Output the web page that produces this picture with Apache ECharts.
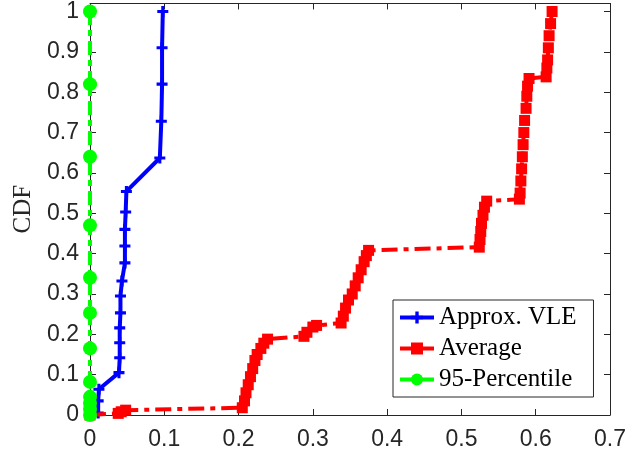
<!DOCTYPE html>
<html>
<head>
<meta charset="utf-8">
<script src="https://cdn.jsdelivr.net/npm/echarts@6/dist/echarts.min.js"></script>
<style>
  html, body { margin: 0; padding: 0; background: #fff; }
  #chart { width: 629px; height: 456px; }
</style>
</head>
<body>
<div id="chart"></div>
<script>
// CDF curves of the three estimators
const vleX = [0.011, 0.011, 0.012, 0.039, 0.040, 0.040, 0.040, 0.041, 0.041, 0.043, 0.047, 0.047, 0.047, 0.048, 0.049, 0.094, 0.096, 0.097, 0.097, 0.098];
const vleY = [0.005, 0.035, 0.064, 0.105, 0.142, 0.179, 0.216, 0.253, 0.295, 0.332, 0.377, 0.419, 0.460, 0.503, 0.554, 0.637, 0.728, 0.820, 0.910, 1.000];

const avgX = [0.000, 0.038, 0.042, 0.048,
  0.205, 0.208, 0.210, 0.213, 0.216, 0.219, 0.222, 0.225, 0.230, 0.234, 0.239,
  0.288, 0.292, 0.300, 0.305,
  0.338, 0.341, 0.344, 0.348, 0.353, 0.357, 0.361, 0.365, 0.369, 0.372, 0.375,
  0.524, 0.525, 0.526, 0.527, 0.529, 0.531, 0.534,
  0.578, 0.579, 0.580, 0.581, 0.582, 0.583, 0.584, 0.585, 0.587, 0.588, 0.589, 0.591,
  0.614, 0.615, 0.616, 0.617, 0.618, 0.620, 0.622];
const avgY = [0.000, 0.004, 0.008, 0.012,
  0.018, 0.035, 0.055, 0.075, 0.095, 0.115, 0.135, 0.150, 0.165, 0.178, 0.188,
  0.195, 0.205, 0.218, 0.222,
  0.228, 0.245, 0.265, 0.285, 0.300, 0.320, 0.340, 0.360, 0.380, 0.395, 0.408,
  0.416, 0.435, 0.455, 0.475, 0.495, 0.515, 0.530,
  0.535, 0.550, 0.580, 0.610, 0.640, 0.670, 0.700, 0.730, 0.760, 0.790, 0.815, 0.834,
  0.838, 0.860, 0.880, 0.910, 0.940, 0.970, 1.000];

const p95X = [0, 0, 0, 0, 0, 0, 0, 0, 0, 0, 0, 0];
const p95Y = [0.000, 0.015, 0.030, 0.045, 0.082, 0.165, 0.253, 0.340, 0.470, 0.640, 0.820, 1.000];

const xTicks = [0, 0.1, 0.2, 0.3, 0.4, 0.5, 0.6, 0.7];
const yTicks = [0, 0.1, 0.2, 0.3, 0.4, 0.5, 0.6, 0.7, 0.8, 0.9, 1];

const seriesNames = ['Approx. VLE', 'Average', '95-Percentile'];

const zip = (xs, ys) => xs.map((x, i) => [x, ys[i]]);

const AXIS_COLOR = '#262626';
const PLUS = 'path://M3.6,0H6.4V3.6H10V6.4H6.4V10H3.6V6.4H0V3.6H3.6Z';

const onTick = (ticks) => (v) => {
  const hit = ticks.find(t => Math.abs(t - v) < 1e-6);
  return hit === undefined ? '' : String(hit);
};

const tickLabelStyle = {
  fontFamily: 'Liberation Sans, Arial, sans-serif',
  fontSize: 23,
  color: AXIS_COLOR
};

function valueAxis(extra) {
  return Object.assign({
    type: 'value',
    axisLine: { show: true, onZero: false, lineStyle: { color: AXIS_COLOR, width: 1 } },
    axisTick: { show: true, inside: true, length: 6, lineStyle: { color: AXIS_COLOR, width: 1 } },
    splitLine: { show: false }
  }, extra);
}

const chart = echarts.init(document.getElementById('chart'), null, { renderer: 'canvas' });

chart.setOption({
  animation: false,
  backgroundColor: '#fff',
  grid: { left: 90, right: 16, top: 3, bottom: 41, containLabel: false },
  xAxis: [
    valueAxis({
      position: 'bottom', min: 0, max: 0.7, interval: 0.1,
      axisLabel: Object.assign({ margin: 13, formatter: onTick(xTicks) }, tickLabelStyle)
    }),
    valueAxis({
      position: 'top', min: 0, max: 0.7, interval: 0.1,
      axisLabel: { show: false }
    })
  ],
  yAxis: [
    valueAxis({
      position: 'left', min: 0, max: 1.02, interval: 0.1,
      name: 'CDF', nameLocation: 'middle', nameGap: 54,
      nameTextStyle: { fontFamily: 'Liberation Serif, serif', fontSize: 25, color: AXIS_COLOR },
      axisLabel: Object.assign({ margin: 11, padding: [5, 0, 0, 0], formatter: onTick(yTicks) }, tickLabelStyle)
    }),
    valueAxis({
      position: 'right', min: 0, max: 1.02, interval: 0.1,
      axisLabel: { show: false }
    })
  ],
  legend: {
    left: 393, top: 300,
    orient: 'vertical',
    data: seriesNames,
    backgroundColor: '#fff',
    borderColor: AXIS_COLOR,
    borderWidth: 1,
    borderRadius: 0,
    padding: [5, 17, 5, 5],
    itemGap: 6,
    itemWidth: 34,
    itemHeight: 15,
    lineStyle: { type: 'solid', width: 4 },
    textStyle: { fontFamily: 'Liberation Serif, serif', fontSize: 25, color: '#000' }
  },
  series: [
    {
      name: seriesNames[0], type: 'line', clip: false,
      data: zip(vleX, vleY),
      symbol: PLUS, symbolSize: 11,
      itemStyle: { color: '#0000ff' },
      lineStyle: { color: '#0000ff', width: 4 },
      z: 2
    },
    {
      name: seriesNames[1], type: 'line', clip: false,
      data: zip(avgX, avgY),
      symbol: 'rect', symbolSize: 11,
      itemStyle: { color: '#ff0000' },
      lineStyle: { color: '#ff0000', width: 4, type: [16, 6, 5, 6] },
      z: 3
    },
    {
      name: seriesNames[2], type: 'line', clip: false,
      data: zip(p95X, p95Y),
      symbol: 'circle', symbolSize: 14,
      itemStyle: { color: '#00ff00' },
      lineStyle: { color: '#00ff00', width: 4, type: [14, 5, 6, 5] },
      z: 4
    }
  ]
});
</script>
</body>
</html>
